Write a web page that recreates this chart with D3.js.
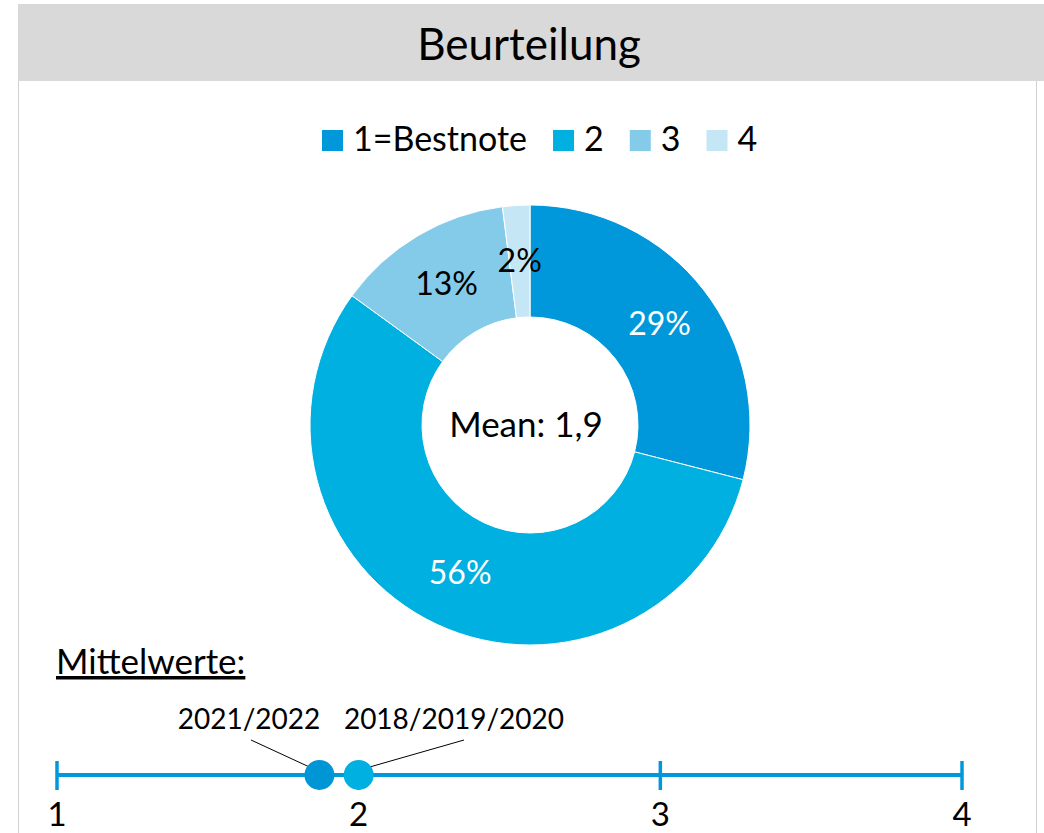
<!DOCTYPE html>
<html>
<head>
<meta charset="utf-8">
<script src="https://d3js.org/d3.v7.min.js"></script>
<style>
  body { margin: 0; background: #fff; }
  text { font-family: Lato, "Noto Sans", sans-serif; }
</style>
</head>
<body>
<div id="chart"></div>
<script>
// grade distribution
var grades = ["1=Bestnote", "2", "3", "4"];
var shares = [29, 56, 13, 2];
var gradeColors = ["#0098da", "#00b0e0", "#84cbea", "#c5e6f5"];
var labelColors = ["#fff", "#fff", "#000", "#000"];
var meanLabel = "Mean: 1,9";

// mean values on the scale
var periods = ["2021/2022", "2018/2019/2020"];
var periodMeans = [1.87, 2.0];
var periodColors = ["#0096d6", "#00b0e0"];
var scaleTicks = [1, 2, 3, 4];

var W = 1044, H = 833;
var svg = d3.select("#chart").append("svg")
    .attr("width", W).attr("height", H);

// panel + header
svg.append("rect").attr("x", 18.5).attr("y", 4.5).attr("width", 1018).attr("height", 840)
    .attr("fill", "#fff").attr("stroke", "#d0d0d0");
svg.append("rect").attr("x", 18).attr("y", 4).attr("width", 1026).attr("height", 77)
    .attr("fill", "#d9d9d9");
svg.append("text").attr("x", 529).attr("y", 60).attr("text-anchor", "middle")
    .attr("font-size", 44).text("Beurteilung");

// legend
var legend = svg.append("g").attr("transform", "translate(322,140)");
var lx = 0;
grades.forEach(function (g, i) {
    var item = legend.append("g").attr("transform", "translate(" + lx + ",0)");
    item.append("rect").attr("x", 0).attr("y", -10).attr("width", 21).attr("height", 21)
        .attr("fill", gradeColors[i]);
    var t = item.append("text").attr("x", 31).attr("y", 11).attr("font-size", 34).text(g);
    lx += 31 + t.node().getComputedTextLength() + 26;
});

// donut
var cx = 530, cy = 425, R = 220, r = 108;
var pie = d3.pie().sort(null).value(function (d) { return d; });
var arc = d3.arc().innerRadius(r).outerRadius(R);
var labelArc = d3.arc().innerRadius((R + r) / 2).outerRadius((R + r) / 2);
var donut = svg.append("g").attr("transform", "translate(" + cx + "," + cy + ")");
var arcs = pie(shares);
donut.selectAll("path").data(arcs).enter().append("path")
    .attr("d", arc)
    .attr("fill", function (d, i) { return gradeColors[i]; })
    .attr("stroke", "#fff").attr("stroke-width", 1);
donut.selectAll("text.pct").data(arcs).enter().append("text")
    .attr("class", "pct")
    .attr("transform", function (d) { var c = labelArc.centroid(d); return "translate(" + c[0] + "," + (c[1] + 11) + ")"; })
    .attr("text-anchor", "middle").attr("font-size", 32)
    .attr("fill", function (d, i) { return labelColors[i]; })
    .text(function (d) { return d.data + "%"; });
donut.append("text").attr("x", -4).attr("y", 12).attr("text-anchor", "middle")
    .attr("font-size", 35).text(meanLabel);

// Mittelwerte scale
svg.append("text").attr("x", 56).attr("y", 674).attr("font-size", 35)
    .attr("text-decoration", "underline").text("Mittelwerte:");

var x = d3.scaleLinear().domain([1, 4]).range([57, 962]);
var axisY = 775;
var axis = svg.append("g").attr("transform", "translate(0," + axisY + ")");
axis.append("line").attr("x1", x(1)).attr("x2", x(4)).attr("stroke", "#0098da").attr("stroke-width", 4);
axis.selectAll("line.tick").data(scaleTicks).enter().append("line")
    .attr("class", "tick")
    .attr("x1", function (d) { return x(d); }).attr("x2", function (d) { return x(d); })
    .attr("y1", -14).attr("y2", 15)
    .attr("stroke", "#0098da").attr("stroke-width", 3.5);
axis.selectAll("text").data(scaleTicks).enter().append("text")
    .attr("x", function (d) { return x(d); }).attr("y", 51)
    .attr("text-anchor", "middle").attr("font-size", 33)
    .text(function (d) { return d; });

// leader lines + labels
var labelPos = [{ lx: 249, ly: 729, ax: 251, ay: 740 }, { lx: 454, ly: 729, ax: 464, ay: 740 }];
periods.forEach(function (p, i) {
    var px = x(periodMeans[i]);
    var dx = i === 0 ? -10 : 11;
    svg.append("line").attr("x1", labelPos[i].ax).attr("y1", labelPos[i].ay)
        .attr("x2", px + dx).attr("y2", axisY - 8)
        .attr("stroke", "#000").attr("stroke-width", 1);
    svg.append("text").attr("x", labelPos[i].lx).attr("y", labelPos[i].ly)
        .attr("text-anchor", "middle").attr("font-size", 28).text(p);
});
svg.selectAll("circle.mean").data(periodMeans).enter().append("circle")
    .attr("class", "mean")
    .attr("cx", function (d) { return x(d); }).attr("cy", axisY)
    .attr("r", 15)
    .attr("fill", function (d, i) { return periodColors[i]; });
</script>
</body>
</html>
